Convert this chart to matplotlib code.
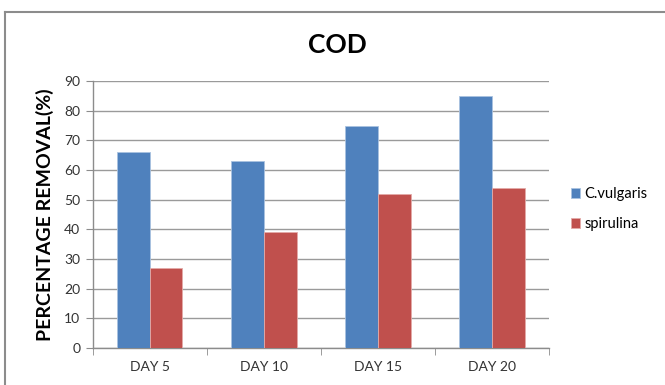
import matplotlib.pyplot as plt
from matplotlib.lines import Line2D
import numpy as np

days = ['DAY 5', 'DAY 10', 'DAY 15', 'DAY 20']
c_vulgaris = [66, 63, 75, 85]
spirulina = [27, 39, 52, 54]
yticks = [0, 10, 20, 30, 40, 50, 60, 70, 80, 90]

plt.rcParams['font.family'] = ['Lato', 'DejaVu Sans']

fig = plt.figure(figsize=(6.65, 3.85), dpi=100)
ax = fig.add_axes([0.1394, 0.0961, 0.6862, 0.6935])

# outer chart frame (top and left only visible in the crop)
grey = '#8c8c8c'
fig.add_artist(Line2D([0.0068, 1.0], [0.9701, 0.9701], transform=fig.transFigure, color=grey, lw=1.5))
fig.add_artist(Line2D([0.0068, 0.0068], [0.0, 0.9701], transform=fig.transFigure, color=grey, lw=1.5))

x = np.arange(len(days))
w = 0.2865
ax.bar(x - w / 2, c_vulgaris, w, color='#4F81BD', edgecolor='#a9c2e0', linewidth=0.6,
       label='C.vulgaris', zorder=3)
ax.bar(x + w / 2, spirulina, w, color='#C0504D', edgecolor='#e3aaa8', linewidth=0.6,
       label='spirulina', zorder=3)

ax.set_xlim(-0.5, len(days) - 0.5)
ax.set_ylim(0, 90)
ax.set_yticks(yticks)
ax.set_xticks(x)
ax.set_xticklabels(days)
ax.set_xticks(np.arange(len(days) + 1) - 0.5, minor=True)
ax.tick_params(axis='x', which='major', length=0, pad=9, labelsize=10, colors='#333333')
ax.tick_params(axis='x', which='minor', length=5, color=grey, direction='out')
ax.tick_params(axis='y', length=5, color=grey, labelsize=10, pad=4, labelcolor='#333333')

ax.grid(axis='y', color='#9a9a9a', lw=1.0, zorder=0)
for s in ['top', 'right']:
    ax.spines[s].set_visible(False)
for s in ['left', 'bottom']:
    ax.spines[s].set_color(grey)
    ax.spines[s].set_linewidth(1.0)

ax.set_ylabel('PERCENTAGE REMOVAL(%)', fontsize=14, fontweight='bold', labelpad=7)
fig.text(0.507, 0.883, 'COD', ha='center', va='center', fontsize=19, fontweight='bold')

ax.legend(loc='center left', bbox_to_anchor=(1.02, 0.52), frameon=False, fontsize=10.5,
          handlelength=0.6, handleheight=0.6, handletextpad=0.3, labelspacing=1.1)

fig.savefig('out.png', dpi=100)
